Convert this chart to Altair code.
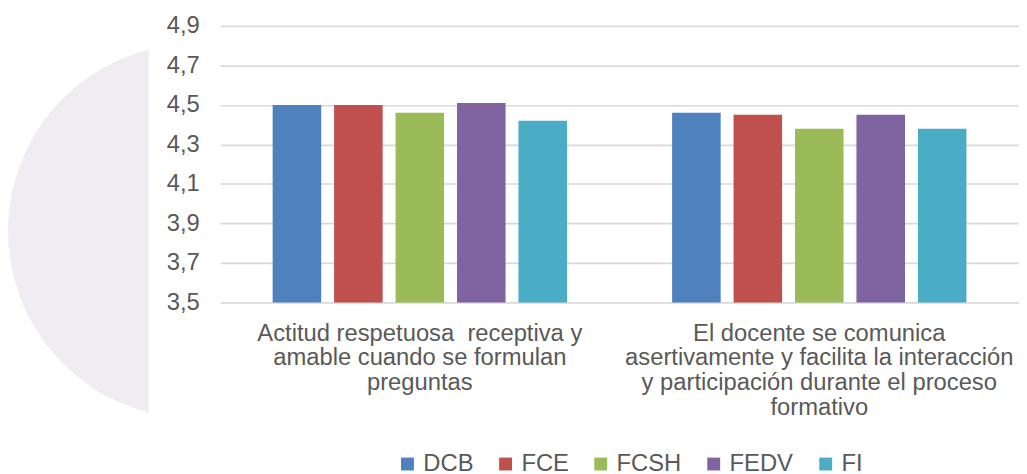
import altair as alt
import pandas as pd

categories = [
    "Actitud respetuosa\u00a0 receptiva y\namable cuando se formulan\npreguntas",
    "El docente se comunica\nasertivamente y facilita la interacción\ny participación durante el proceso\nformativo",
]
series = ["DCB", "FCE", "FCSH", "FEDV", "FI"]
colors = ["#4F81BD", "#C0504D", "#9BBB59", "#8064A2", "#4BACC6"]
values_cat1 = [4.50, 4.50, 4.46, 4.51, 4.42]
values_cat2 = [4.46, 4.45, 4.38, 4.45, 4.38]
y_ticks = [3.5, 3.7, 3.9, 4.1, 4.3, 4.5, 4.7, 4.9]

rows = []
for s, v in zip(series, values_cat1):
    rows.append({"category": categories[0], "series": s, "value": v})
for s, v in zip(series, values_cat2):
    rows.append({"category": categories[1], "series": s, "value": v})
df = pd.DataFrame(rows)

FONT = "Liberation Sans"
TXT = "#595959"

main = (
    alt.Chart(df)
    .mark_bar()
    .encode(
        x=alt.X(
            "category:N",
            sort=categories,
            scale=alt.Scale(paddingInner=0, paddingOuter=0),
            axis=alt.Axis(
                title=None,
                labelAngle=0,
                labelExpr="split(datum.label, '\\n')",
                labelFont=FONT,
                labelFontSize=24,
                labelColor=TXT,
                labelLineHeight=25,
                labelBaseline="top",
                labelPadding=19,
                labelLimit=0,
                ticks=False,
                domain=False,
                grid=False,
            ),
        ),
        xOffset=alt.XOffset(
            "series:N", sort=series, scale=alt.Scale(paddingInner=0.21, paddingOuter=0.855)
        ),
        y=alt.Y(
            "value:Q",
            scale=alt.Scale(domain=[3.5, 4.9], zero=False, nice=False),
            axis=alt.Axis(
                title=None,
                values=y_ticks,
                labelExpr="replace(format(datum.value, '.1f'), '.', ',')",
                labelFont=FONT,
                labelFontSize=24,
                labelColor=TXT,
                labelPadding=21,
                ticks=False,
                tickSize=0,
                domain=False,
                grid=True,
                gridColor="#D9D9D9",
                gridWidth=1.7,
            ),
        ),
        y2=alt.datum(3.5),
        color=alt.Color(
            "series:N",
            sort=series,
            scale=alt.Scale(domain=series, range=colors),
            legend=alt.Legend(
                title=None,
                orient="none",
                direction="horizontal",
                legendX=391,
                legendY=430,
                symbolType="square",
                symbolSize=169,
                symbolStrokeWidth=0,
                labelFont=FONT,
                labelFontSize=24,
                labelColor=TXT,
                labelOffset=4,
                columnPadding=20,
            ),
        ),
    )
    .properties(width=806, height=279)
)

deco = pd.DataFrame({"k": [0]})
circle_panel = (
    alt.Chart(deco)
    .mark_circle(color="#F0EDF2", opacity=1, size=142884, clip=True)
    .encode(x=alt.value(189), y=alt.value(207))
    .properties(width=142, height=420)
)

chart = (
    alt.hconcat(circle_panel, main, spacing=17)
    .properties(padding={"left": 0, "top": 4, "right": 0, "bottom": 0})
    .configure_view(stroke=None)
)

chart.save("out.html", embed_options={"renderer": "svg", "actions": False})
